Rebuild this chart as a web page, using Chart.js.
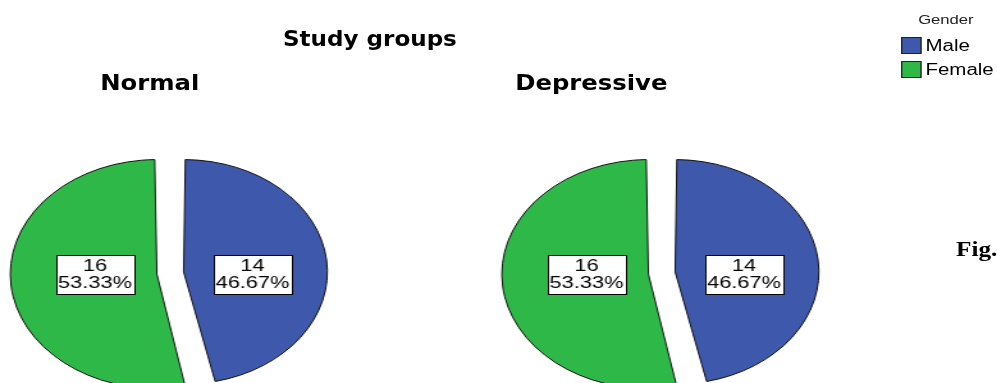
<!DOCTYPE html>
<html>
<head>
<meta charset="utf-8">
<script src="https://cdn.jsdelivr.net/npm/chart.js@4.4.1/dist/chart.umd.min.js"></script>
<style>
  html, body { margin: 0; padding: 0; background: #fff; overflow: hidden; }
  body { width: 997px; height: 383px; position: relative; }
  /* the SPSS export is stretched sideways, so the whole figure is laid out narrow and widened */
  #stage {
    position: absolute; left: 0; top: 0; width: 779px; height: 400px;
    transform: scaleX(1.28); transform-origin: 0 0; overflow: hidden;
  }
  .title {
    position: absolute; width: 300px; text-align: center;
    font-family: "DejaVu Sans", sans-serif; font-weight: bold; line-height: 1; color: #000;
  }
  canvas { position: absolute; top: 0; }
  #legend { position: absolute; left: 690px; top: 0; width: 110px; font-family: "Liberation Sans", Arial, sans-serif; }
  #legend .head { position: absolute; left: 0; top: 13px; width: 98px; text-align: center; font-size: 13px; line-height: 1; color: #222; }
  #legend .row { position: absolute; left: 14px; height: 18px; }
  #legend .box { position: absolute; left: 0; top: 0; width: 14px; height: 15px; border: 1px solid #222; }
  #legend .lbl { position: absolute; left: 19px; top: 1px; font-size: 16px; line-height: 1; color: #000; white-space: nowrap; }
  #fig {
    position: absolute; left: 956px; top: 239px; font-family: "Liberation Serif", "Times New Roman", serif;
    font-weight: bold; font-size: 21px; line-height: 1; white-space: nowrap;
    transform: scaleX(1.2); transform-origin: 0 0;
  }
</style>
</head>
<body>
<div id="stage">
  <div class="title" style="left:139px; top:31px; font-size:18px; transform:scaleY(1.18); transform-origin:50% 15.2px;">Study groups</div>
  <div class="title" id="t0" style="left:-33px; top:74px; font-size:19px; transform:scaleY(1.12); transform-origin:50% 16.1px;"></div>
  <div class="title" id="t1" style="left:312px; top:74px; font-size:19px; transform:scaleY(1.12); transform-origin:50% 16.1px;"></div>
  <canvas id="pie0" width="266" height="546" style="left:0px; width:266px; height:546px;"></canvas>
  <canvas id="pie1" width="266" height="546" style="left:384px; width:266px; height:546px;"></canvas>
  <div id="legend"></div>
</div>
<div id="fig">Fig.</div>

<script>
const categories = ['Male', 'Female'];
const groups = ['Normal', 'Depressive'];
const normalCounts = [14, 16];
const depressiveCounts = [14, 16];
const colors = ['#3E58AC', '#2EB848'];
const legendTitle = 'Gender';

// count + percent boxes, pushed out from the centre like SPSS does (level with the pie centre)
const sliceLabels = {
  id: 'sliceLabels',
  afterDatasetsDraw(chart) {
    const ctx = chart.ctx;
    const ds = chart.data.datasets[0];
    const total = ds.data.reduce((a, b) => a + b, 0);
    const meta = chart.getDatasetMeta(0);
    meta.data.forEach((arc, i) => {
      const circ = arc.endAngle - arc.startAngle;
      const mid = (arc.startAngle + arc.endAngle) / 2;
      const shift = ds.offset / 4;
      const r = arc.outerRadius + shift * (1 - Math.sin(Math.min(Math.PI, circ)));
      const a = circ / 2;
      const d = 2 * r * Math.sin(a) / (3 * a) + shift + 3;
      const x = arc.x + Math.sign(Math.cos(mid)) * d;
      const y = arc.y + 1;
      const w = 61, h = 39;
      ctx.save();
      ctx.fillStyle = '#fff';
      ctx.strokeStyle = '#000';
      ctx.lineWidth = 1;
      ctx.fillRect(Math.round(x - w / 2), Math.round(y - h / 2), w, h);
      ctx.strokeRect(Math.round(x - w / 2) + 0.5, Math.round(y - h / 2) + 0.5, w, h);
      ctx.fillStyle = '#000';
      ctx.font = '17px "Liberation Sans", Arial, sans-serif';
      ctx.textAlign = 'center';
      ctx.textBaseline = 'middle';
      ctx.fillText(String(ds.data[i]), x, y - 8);
      ctx.fillText((ds.data[i] / total * 100).toFixed(2) + '%', x, y + 9);
      ctx.restore();
    });
  }
};

function makePie(canvasId, counts) {
  return new Chart(document.getElementById(canvasId), {
    type: 'pie',
    data: {
      labels: categories,
      datasets: [{
        data: counts,
        backgroundColor: colors,
        borderColor: '#111',
        borderWidth: 1,
        offset: 42
      }]
    },
    options: {
      responsive: false,
      animation: false,
      radius: 104,
      layout: { padding: 0 },
      plugins: {
        legend: { display: false },
        tooltip: { enabled: false }
      }
    },
    plugins: [sliceLabels]
  });
}

makePie('pie0', normalCounts);
makePie('pie1', depressiveCounts);

document.getElementById('t0').textContent = groups[0];
document.getElementById('t1').textContent = groups[1];

// legend
const legend = document.getElementById('legend');
const head = document.createElement('div');
head.className = 'head';
head.textContent = legendTitle;
legend.appendChild(head);
categories.forEach((c, i) => {
  const row = document.createElement('div');
  row.className = 'row';
  row.style.top = (37 + i * 24) + 'px';
  row.innerHTML = '<div class="box"></div><div class="lbl"></div>';
  row.querySelector('.box').style.background = colors[i];
  row.querySelector('.lbl').textContent = c;
  legend.appendChild(row);
});
</script>
</body>
</html>
